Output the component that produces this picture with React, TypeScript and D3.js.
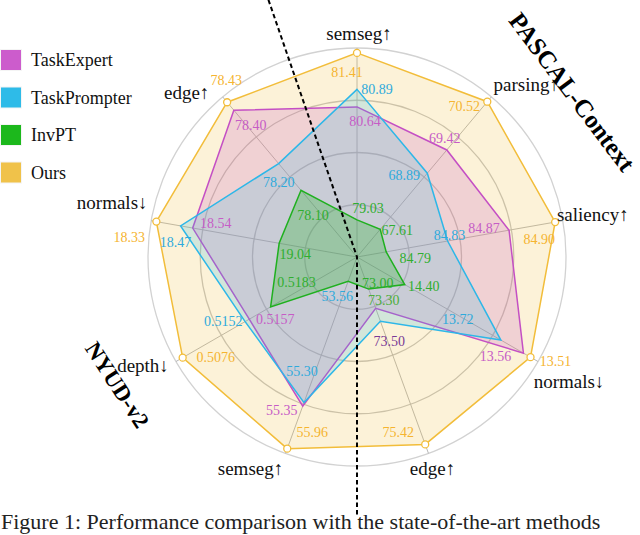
import { useEffect, useRef } from "react";
import { select, scaleLinear, line, curveLinearClosed, range } from "d3";

const axisNames = ["semseg↑", "parsing↑", "saliency↑", "normals↓", "edge↑", "semseg↑", "depth↓", "normals↓", "edge↑"];
const axisDecimals = [2, 2, 2, 2, 2, 2, 4, 2, 2];
// value at the centre, value at the outer ring (lower-is-better axes are reversed)
const axisDomains = [
    [78.5, 81.48],
    [66.98, 70.63],
    [84.771, 84.905],
    [14.738, 13.457],
    [72.5, 75.56],
    [53.213, 56.028],
    [0.52881, 0.50679],
    [19.49, 18.3],
    [77.85, 78.45],
];

const seriesNames = ["TaskExpert", "TaskPrompter", "InvPT", "Ours"];
const taskExpert = [80.64, 69.42, 84.87, 13.56, 73.3, 55.35, 0.5157, 18.54, 78.4];
const taskPrompter = [80.89, 68.89, 84.83, 13.72, 73.5, 55.3, 0.5152, 18.47, 78.2];
const invPT = [79.03, 67.61, 84.79, 14.4, 73.0, 53.56, 0.5183, 19.04, 78.1];
const ours = [81.41, 70.52, 84.9, 13.51, 75.42, 55.96, 0.5076, 18.33, 78.43];

const caption = "Figure 1: Performance comparison with the state-of-the-art methods";

export default function App() {
    const svgRef = useRef(null);

    useEffect(() => {
        const W = 640;
        const H = 535;
        const cx = 357;
        const cy = 257;
        const R = 209;
        const serif = "'Liberation Serif', 'Times New Roman', serif";

        const svg = select(svgRef.current);
        svg.selectAll("*").remove();

        const angle = (i) => (i * 2 * Math.PI) / axisNames.length;
        const scales = axisDomains.map((d) => scaleLinear().domain(d).range([0, R]));
        const pt = (i, r) => [cx + r * Math.sin(angle(i)), cy - r * Math.cos(angle(i))];

        // grid
        const grid = svg.append("g");
        grid.selectAll("circle")
            .data([0.25, 0.5, 0.75, 1])
            .join("circle")
            .attr("cx", cx)
            .attr("cy", cy)
            .attr("r", (d) => d * R)
            .attr("fill", "none")
            .attr("stroke", (d) => (d === 1 ? "#d2d2d2" : "#c4c4c4"))
            .attr("stroke-width", 1.3);
        grid.selectAll("line")
            .data(range(axisNames.length))
            .join("line")
            .attr("x1", cx)
            .attr("y1", cy)
            .attr("x2", (i) => pt(i, R)[0])
            .attr("y2", (i) => pt(i, R)[1])
            .attr("stroke", "#b8b8b8")
            .attr("stroke-width", 1);

        const series = [
            { name: "Ours", values: ours, stroke: "#f2bd3a", label: "#f5b430" },
            { name: "TaskExpert", values: taskExpert, stroke: "#c44fc4", label: "#c65cc6" },
            { name: "TaskPrompter", values: taskPrompter, stroke: "#2db7e8", label: "#2eaadc" },
            { name: "InvPT", values: invPT, stroke: "#1fb01f", label: "#2fae2f" },
        ];

        const radarLine = line().curve(curveLinearClosed);

        series.forEach((s) => {
            const pts = s.values.map((v, i) => pt(i, scales[i](v)));
            svg.append("path")
                .attr("d", radarLine(pts))
                .attr("fill", s.stroke)
                .attr("fill-opacity", s.name === "InvPT" ? 0.27 : 0.2)
                .attr("stroke", s.stroke)
                .attr("stroke-width", 1.5)
                .attr("stroke-linejoin", "miter");
        });

        // markers on Ours
        svg.append("g")
            .selectAll("circle")
            .data(ours)
            .join("circle")
            .attr("cx", (v, i) => pt(i, scales[i](v))[0])
            .attr("cy", (v, i) => pt(i, scales[i](v))[1])
            .attr("r", 3.5)
            .attr("fill", "#fff")
            .attr("stroke", "#f2bd3a")
            .attr("stroke-width", 1.3);

        // value label nudges (layout only), per series per axis
        const nudges = {
            Ours: [[-10, 20], [-23, 5], [-16, 17], [25, 4], [-27, -12], [25, -16], [33, 0], [-27, 16], [-1, -22]],
            TaskExpert: [[8, 15], [-2, -11], [-25, -2], [-28, 3], [8, -8], [-21, 4], [26, 0], [23, -5], [17, 15]],
            TaskPrompter: [[20, 0], [-23, 2], [2, -6], [-43, -21], [9, 20], [-2, -31], [-22, 0], [-5, 17], [0, 19]],
            InvPT: [[11, -11], [17, 1], [29, 7], [19, 2], [9, -6], [-11, 15], [26, -24], [16, 11], [12, 25]],
        };
        const labelColorFix = { "TaskExpert-4": "#4cae3c", "TaskPrompter-4": "#7a3a96", "InvPT-5": "#2eaadc" };

        const labels = svg.append("g").attr("font-family", serif).attr("font-size", 14);
        series.forEach((s) => {
            s.values.forEach((v, i) => {
                const [x, y] = pt(i, scales[i](v));
                const [dx, dy] = nudges[s.name][i];
                labels.append("text")
                    .attr("x", x + dx)
                    .attr("y", y + dy)
                    .attr("text-anchor", "middle")
                    .attr("dominant-baseline", "central")
                    .attr("fill", labelColorFix[s.name + "-" + i] || s.label)
                    .text(v.toFixed(axisDecimals[i]));
            });
        });

        // axis names
        const axisNudge = [[2, -15], [35, -12], [30, -6], [31, 20], [4, 15], [-35, 15], [-33, 4], [-39, -18], [-36, -4]];
        svg.append("g")
            .selectAll("text")
            .data(axisNames)
            .join("text")
            .attr("x", (d, i) => pt(i, R)[0] + axisNudge[i][0])
            .attr("y", (d, i) => pt(i, R)[1] + axisNudge[i][1])
            .attr("text-anchor", "middle")
            .attr("dominant-baseline", "central")
            .attr("font-family", serif)
            .attr("font-size", 19)
            .attr("fill", "#111")
            .text((d) => d);

        // dataset divider
        const dividerAngle = (-19 * Math.PI) / 180;
        svg.append("path")
            .attr("d", line()([
                [cx + 272 * Math.sin(dividerAngle), cy - 272 * Math.cos(dividerAngle)],
                [cx, cy],
                [cx, cy + 260],
            ]))
            .attr("fill", "none")
            .attr("stroke", "#000")
            .attr("stroke-width", 2)
            .attr("stroke-dasharray", "4.5,3");

        svg.append("text")
            .attr("transform", "translate(572,92) rotate(53)")
            .attr("text-anchor", "middle")
            .attr("dominant-baseline", "central")
            .attr("font-family", serif)
            .attr("font-weight", "bold")
            .attr("font-size", 25)
            .text("PASCAL-Context");

        svg.append("text")
            .attr("transform", "translate(117,385) rotate(57)")
            .attr("text-anchor", "middle")
            .attr("dominant-baseline", "central")
            .attr("font-family", serif)
            .attr("font-weight", "bold")
            .attr("font-size", 23)
            .text("NYUD-v2");

        // legend
        const legendColors = ["#cc5ccc", "#2ebbe8", "#1cb81c", "#f0c24a"];
        const legend = svg.append("g");
        seriesNames.forEach((name, i) => {
            const y = 49 + i * 37.5;
            legend.append("rect")
                .attr("x", 0.5)
                .attr("y", y + 0.5)
                .attr("width", 21)
                .attr("height", 21)
                .attr("fill", legendColors[i])
                .attr("stroke", "#f4f4f4")
                .attr("stroke-width", 1);
            legend.append("text")
                .attr("x", 31)
                .attr("y", y + 11)
                .attr("dominant-baseline", "central")
                .attr("font-family", serif)
                .attr("font-size", 18)
                .attr("fill", "#111")
                .text(name);
        });

        svg.append("text")
            .attr("x", 1)
            .attr("y", 529)
            .attr("font-family", serif)
            .attr("font-size", 22)
            .attr("fill", "#222")
            .text(caption);

        svg.attr("width", W).attr("height", H);
    }, []);

    return (
        <svg
            ref={svgRef}
            width={640}
            height={535}
            style={{ position: "absolute", left: 0, top: 0, background: "#fff", display: "block" }}
        ></svg>
    );
}
